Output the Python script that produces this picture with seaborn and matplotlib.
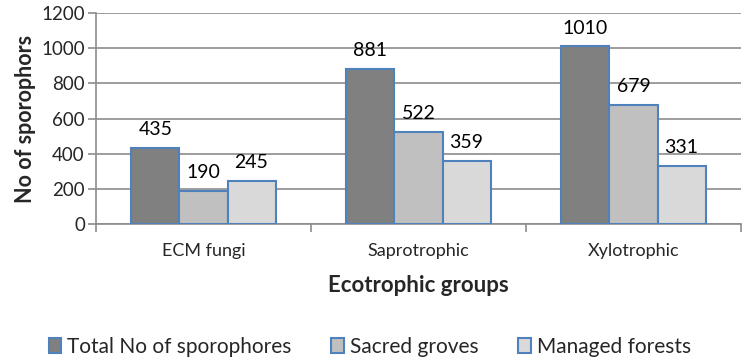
import pandas as pd
import matplotlib.pyplot as plt
import seaborn as sns

# data
groups = ['ECM fungi', 'Saprotrophic', 'Xylotrophic']
series = ['Total No of sporophores', 'Sacred groves', 'Managed forests']
total = [435, 881, 1010]
sacred = [190, 522, 679]
managed = [245, 359, 331]

df = pd.DataFrame({
    'Group': groups * 3,
    'Series': [series[0]] * 3 + [series[1]] * 3 + [series[2]] * 3,
    'Count': total + sacred + managed,
})

sns.set_style('white')
plt.rcParams['font.family'] = ['Lato', 'DejaVu Sans']

fig = plt.figure(figsize=(7.52, 3.63), dpi=100)
ax = fig.add_axes([96 / 752, 1 - 224 / 363, 645 / 752, 211 / 363])

colors = ['#808080', '#C0C0C0', '#D9D9D9']
sns.barplot(data=df, x='Group', y='Count', hue='Series', palette=colors,
            width=0.67, edgecolor='#4F81BD', linewidth=1.5, ax=ax, zorder=3)

for c in ax.containers:
    ax.bar_label(c, padding=7, fontsize=14, color='black')

ax.set_ylim(0, 1200)
ax.set_yticks(range(0, 1201, 200))
ax.set_xlim(-0.5, 2.5)
ax.grid(axis='y', color='#8C8C8C', linewidth=1.2, zorder=0)
for s in ['top', 'right']:
    ax.spines[s].set_visible(False)
ax.spines['left'].set_color('#8C8C8C')
ax.spines['bottom'].set_color('#8C8C8C')
ax.spines['left'].set_linewidth(1.2)
ax.spines['bottom'].set_linewidth(1.2)

ax.tick_params(axis='y', labelsize=13.5, length=6, width=1.2, color='#8C8C8C', left=True, pad=2)
ax.tick_params(axis='x', labelsize=13, length=0, pad=14)
ax.set_xticks([0, 1, 2])
ax.set_xticks([-0.5, 0.5, 1.5, 2.5], minor=True)
ax.tick_params(axis='x', which='minor', length=6, width=1.2, color='#8C8C8C', bottom=True)

ax.set_xlabel('Ecotrophic groups', fontsize=16, fontweight='bold', labelpad=11)
ax.set_ylabel('No of sporophors', fontsize=15.5, fontweight='bold', labelpad=4)

ax.legend(loc='center', bbox_to_anchor=(370 / 752, 1 - 347 / 363),
          bbox_transform=fig.transFigure, ncol=3,
          frameon=False, fontsize=15, handlelength=0.6, handleheight=0.7,
          handletextpad=0.3, columnspacing=1.9)

fig.savefig('out.png', dpi=100)
